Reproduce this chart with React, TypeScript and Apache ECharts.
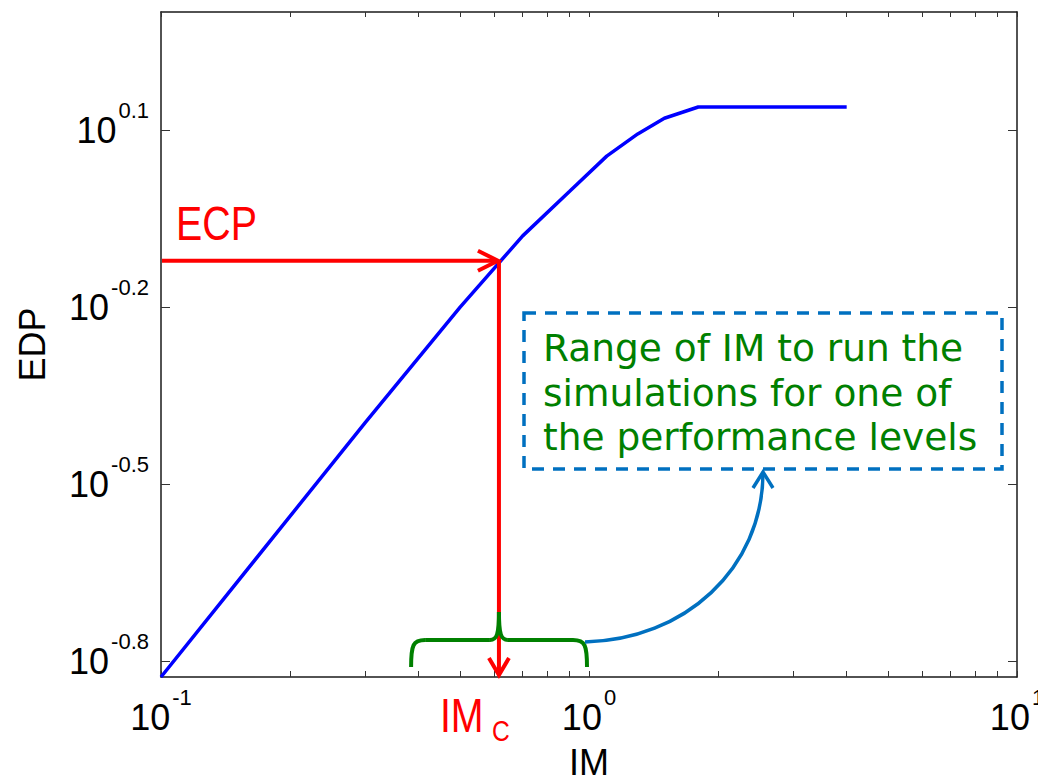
import React, { useEffect, useRef } from 'react';
import * as echarts from 'echarts';

// ---- data ----
const imValues = [0.1, 0.3, 0.5, 0.7, 0.9, 1.1, 1.3, 1.5, 1.8, 4.0];
const edpValues = [0.149, 0.402, 0.631, 0.833, 0.99, 1.137, 1.24, 1.318, 1.377, 1.377];
const xTickExponents = [-1, 0, 1];
const yTickExponents = [-0.8, -0.5, -0.2, 0.1];
const xMinorTicks = [0.1, 0.2, 0.3, 0.4, 0.5, 0.6, 0.7, 0.8, 0.9, 1, 2, 3, 4, 5, 6, 7, 8, 9, 10];
const xRange = [0.1, 10];
const yRange = [0.149, 1.995];
const ecpValue = 0.756;
const imcValue = 0.616;
const imRange = [0.384, 1.0];
const noteLines = ['Range of IM to run the', 'simulations for one of', 'the performance levels'];

export default function App() {
  const ref = useRef<HTMLDivElement>(null);
  useEffect(() => {
    const chart = echarts.init(ref.current!, null, { renderer: 'svg' });
    const font = 'Liberation Sans, Arial, sans-serif';
    const noteFont = 'DejaVu Sans, Verdana, sans-serif';
    const rich = {
      b: { fontSize: 36, fontFamily: font, color: '#000', lineHeight: 40 },
      s: { fontSize: 22, fontFamily: font, color: '#000', lineHeight: 22, padding: [0, 0, 40, 2] },
    };
    const fmt = (v: number) => `{b|10}{s|${Number(v.toFixed(2))}}`;
    const lx = (v: number) => Math.log10(v);
    const axisLine = { show: true, onZero: false, lineStyle: { color: '#1a1a1a', width: 1.5 } };
    const tickStyle = { color: '#333', width: 1 };
    const xMin = lx(xRange[0]);
    const xMax = lx(xRange[1]);
    const yMin = lx(yRange[0]);
    const yMax = lx(yRange[1]);

    chart.setOption({
      animation: false,
      backgroundColor: '#fff',
      grid: { left: 161, right: 21, top: 12, bottom: 100, containLabel: false, outerBoundsMode: 'none' },
      xAxis: [
        {
          type: 'value', position: 'bottom', min: xMin, max: xMax,
          axisLine,
          axisTick: { show: true, inside: true, length: 6, customValues: xMinorTicks.map((v) => lx(v)), lineStyle: tickStyle },
          axisLabel: { show: true, customValues: xTickExponents, formatter: fmt, margin: 20, rich },
          splitLine: { show: false },
          name: 'IM', nameLocation: 'middle', nameGap: 67, nameMoveOverlap: false,
          nameTextStyle: { fontSize: 36, fontFamily: font, color: '#000' },
        },
        {
          type: 'value', position: 'top', min: xMin, max: xMax,
          axisLine,
          axisTick: { show: true, inside: true, length: 5, customValues: xMinorTicks.map((v) => lx(v)), lineStyle: tickStyle },
          axisLabel: { show: false },
          splitLine: { show: false },
        },
      ],
      yAxis: [
        {
          type: 'value', position: 'left', min: yMin, max: yMax,
          axisLine,
          axisTick: { show: true, inside: true, length: 9, customValues: yTickExponents, lineStyle: tickStyle },
          axisLabel: { show: true, customValues: yTickExponents, formatter: fmt, margin: 12, rich },
          splitLine: { show: false },
          name: 'EDP', nameLocation: 'middle', nameGap: 111, nameMoveOverlap: false,
          nameTextStyle: { fontSize: 36, fontFamily: font, color: '#000' },
        },
        {
          type: 'value', position: 'right', min: yMin, max: yMax,
          axisLine,
          axisTick: { show: true, inside: true, length: 9, customValues: yTickExponents, lineStyle: tickStyle },
          axisLabel: { show: false },
          splitLine: { show: false },
        },
      ],
      series: [
        {
          type: 'line',
          xAxisIndex: 0,
          yAxisIndex: 0,
          data: imValues.map((x, i) => [lx(x), lx(edpValues[i])]),
          showSymbol: false,
          symbol: 'none',
          lineStyle: { color: '#0000ff', width: 3.5 },
          itemStyle: { color: '#0000ff' },
          silent: true,
        },
      ],
    });

    const px = (x: number, y: number) =>
      chart.convertToPixel({ gridIndex: 0 } as any, [lx(x), lx(y)]) as unknown as number[];
    const [cx, cy] = px(imcValue, ecpValue);
    const left = px(xRange[0], ecpValue)[0];
    const bottom = px(imcValue, yRange[0])[1];
    const xl = px(imRange[0], ecpValue)[0];
    const xr = px(imRange[1], ecpValue)[0];
    const red = '#ff0000';
    const green = '#008000';
    const blue = '#0070c0';
    const braceY = bottom - 37;
    const braceEnd = bottom - 10;
    const braceTip = bottom - 65;
    const box = { x: 524, y: 313, width: 478, height: 156 };
    const boxMidX = box.x + box.width / 2;
    const boxBottom = box.y + box.height;

    const line = (x1: number, y1: number, x2: number, y2: number, stroke: string, w: number) => ({
      type: 'line', z: 100, shape: { x1, y1, x2, y2 }, style: { stroke, lineWidth: w }, silent: true,
    });
    const bez = (x1: number, y1: number, cpx1: number, cpy1: number, cpx2: number, cpy2: number, x2: number, y2: number, stroke: string, w: number) => ({
      type: 'bezierCurve', z: 100, shape: { x1, y1, cpx1, cpy1, cpx2, cpy2, x2, y2 },
      style: { stroke, lineWidth: w, fill: 'none' }, silent: true,
    });
    const poly = (points: number[][], stroke: string, w: number) => ({
      type: 'polyline', z: 100, shape: { points }, style: { stroke, lineWidth: w, fill: 'none', lineJoin: 'miter' }, silent: true,
    });
    const narrowText = (text: string, x: number, y: number, size: number) => ({
      type: 'text', z: 100, x, y, scaleX: 0.82, silent: true,
      style: { text, fill: red, fontSize: size, fontFamily: font, align: 'left', verticalAlign: 'middle' },
    });

    const graphic: any[] = [
      // ECP horizontal arrow
      line(left + 1, cy, cx - 2, cy, red, 4),
      poly([[cx - 21, cy - 10], [cx - 1, cy], [cx - 21, cy + 10]], red, 4),
      // vertical arrow down to IMc
      line(cx, cy, cx, bottom - 3, red, 4),
      poly([[cx - 10, bottom - 19], [cx, bottom - 2], [cx + 10, bottom - 19]], red, 4),
      // ECP and IMc labels
      narrowText('ECP', left + 15, cy - 38, 48),
      narrowText('IM', cx - 59, 715, 48),
      narrowText('C', cx - 7, 731, 30),
      // green brace
      bez(xl, braceEnd, xl, braceY + 5, xl + 2, braceY, xl + 14, braceY, green, 4),
      line(xl + 14, braceY, cx - 9, braceY, green, 4),
      bez(cx - 9, braceY, cx - 2, braceY, cx, braceY - 6, cx, braceTip, green, 4),
      bez(cx + 9, braceY, cx + 2, braceY, cx, braceY - 6, cx, braceTip, green, 4),
      line(cx + 9, braceY, xr - 16, braceY, green, 4),
      bez(xr - 16, braceY, xr - 4, braceY, xr - 2, braceY + 5, xr - 2, braceEnd, green, 4),
      // blue curved arrow
      bez(xr - 4, braceY + 2, xr + 95, braceY, boxMidX, boxBottom + 100, boxMidX, boxBottom + 3, blue, 3.5),
      poly([[boxMidX - 10, boxBottom + 19], [boxMidX, boxBottom + 3], [boxMidX + 10, boxBottom + 19]], blue, 3.5),
      // dashed box
      { type: 'rect', z: 100, shape: box, silent: true,
        style: { fill: 'none', stroke: blue, lineWidth: 3.5, lineDash: [12, 9] } },
      ...noteLines.map((t, i) => ({
        type: 'text', z: 101, x: box.x + 19, y: 348 + i * 44.5, silent: true,
        style: { text: t, fill: green, fontSize: 37.5, fontFamily: noteFont, align: 'left', verticalAlign: 'middle' },
      })),
    ];
    chart.setOption({ graphic });

    return () => chart.dispose();
  }, []);

  return (
    <div
      ref={ref}
      style={{ position: 'absolute', left: 0, top: 0, width: 1038, height: 777, background: '#fff' }}
    />
  );
}
